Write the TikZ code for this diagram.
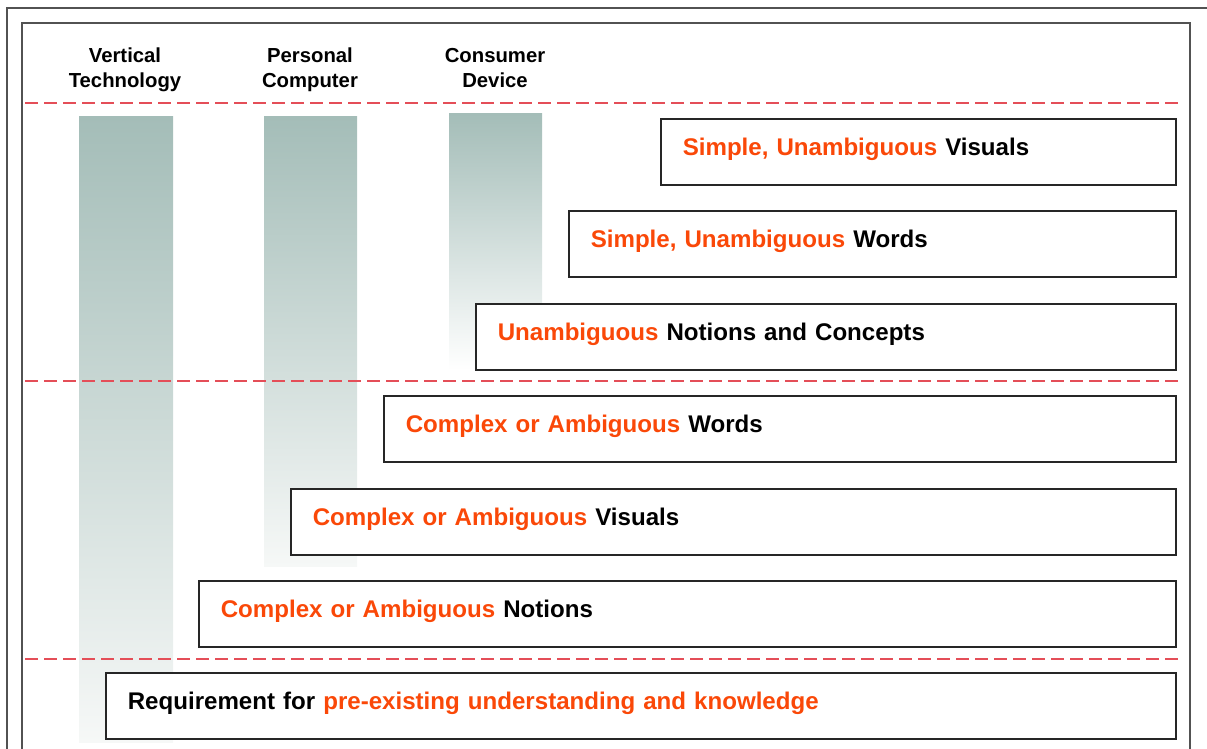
\documentclass[tikz,border=0pt]{standalone}
\usepackage{fontspec}
\setmainfont{Liberation Sans}
\begin{document}
\begin{tikzpicture}[x=1pt,y=-1pt,
  frameline/.style={draw=black!68,line width=1.3pt},
  levelsep/.style={draw=sepred,line width=1.4pt,dash pattern=on 13pt off 6pt},
  column/.style={top color=bartop,bottom color=barbottom,draw=none},
  colhead/.style={align=center,font=\fontsize{20.3}{25}\selectfont\bfseries},
  level/.style={draw=black!85,line width=1.6pt,fill=white,anchor=north west,
    inner xsep=22pt,inner ysep=0pt,align=left,minimum height=66pt,
    text height=17pt,text depth=9pt,
    font=\fontsize{24.1}{28}\selectfont\bfseries},
]
\definecolor{accent}{RGB}{250,72,8}
\definecolor{sepred}{RGB}{228,78,88}
\definecolor{bartop}{RGB}{164,189,184}
\definecolor{barbottom}{RGB}{246,248,247}
\useasboundingbox (0,0) rectangle (1207,749);

% frames
\draw[frameline] (7,770) -- (7,8) -- (1220,8);
\draw[frameline] (22,770) -- (22,23) -- (1190,23) -- (1190,770);

% fading columns
\shade[column] (79,117) rectangle (173,742);
\shade[column] (264,117) rectangle (357,566);
\shade[column,bottom color=white] (449,114) rectangle (542,370);

% column headings
\node[colhead] (hvt) at (125,70) {Vertical\\Technology};
\node[colhead] (hpc) at (310,70) {Personal\\Computer};
\node[colhead] (hcd) at (495,68) {Consumer\\Device};

% level separators
\draw[levelsep] (25,103) -- (1183,103);
\draw[levelsep] (25,381) -- (1183,381);
\draw[levelsep] (25,659) -- (1183,659);

% levels
\node[level,text width=471pt] (l1) at (660,118) {\textcolor{accent}{Simple, Unambiguous} Visuals};
\node[level,text width=563pt] (l2) at (568,210) {\textcolor{accent}{Simple, Unambiguous} Words};
\node[level,text width=656pt] (l3) at (475,303) {\textcolor{accent}{Unambiguous} Notions and Concepts};
\node[level,text width=748pt] (l4) at (383,395) {\textcolor{accent}{Complex or Ambiguous} Words};
\node[level,text width=841pt] (l5) at (290,488) {\textcolor{accent}{Complex or Ambiguous} Visuals};
\node[level,text width=933pt] (l6) at (198,580) {\textcolor{accent}{Complex or Ambiguous} Notions};
\node[level,text width=1026pt] (l7) at (105,672) {Requirement for \textcolor{accent}{pre-existing understanding and knowledge}};
\end{tikzpicture}
\end{document}
